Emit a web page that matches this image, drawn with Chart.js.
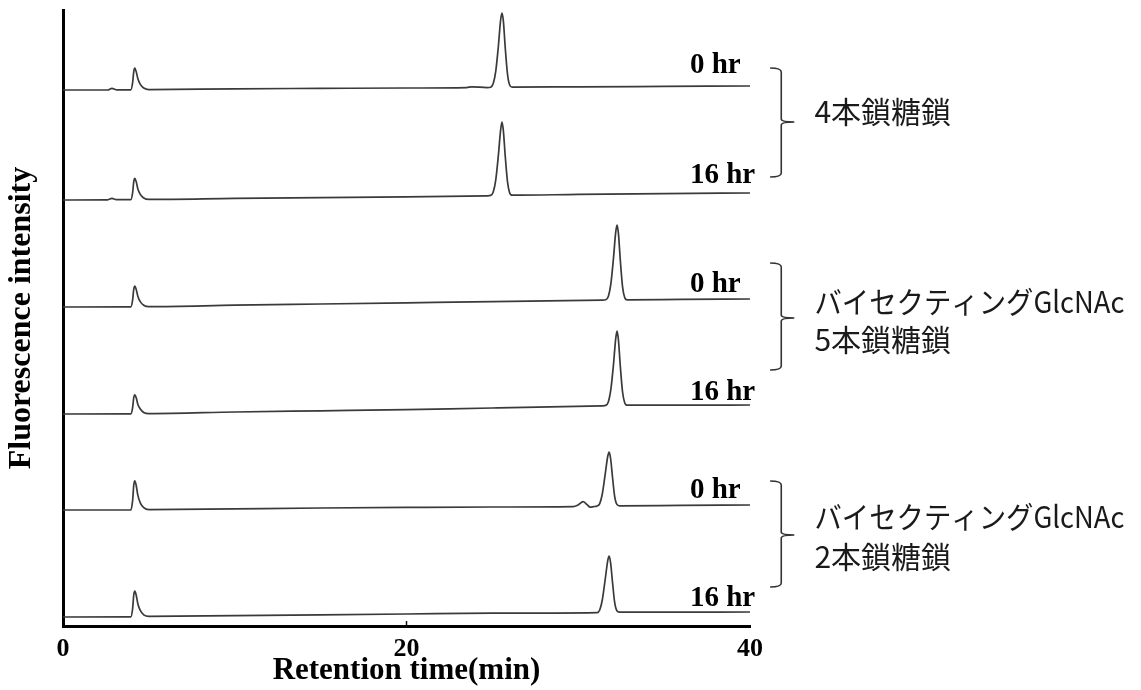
<!DOCTYPE html>
<html lang="ja">
<head>
<meta charset="UTF-8">
<title>Retention time chromatogram</title>
<style>
  html, body { margin: 0; padding: 0; background: #fff; }
  #wrap { width: 1141px; height: 690px; }
</style>
</head>
<body>
<div id="wrap"><canvas id="grafico" width="1141" height="690"></canvas></div>
<script src="https://cdn.jsdelivr.net/npm/chart.js"></script>
<script>
// x ticks / range (min)
const xTicks = [0, 20, 40];

// each trace: [retention time (min), fluorescence (a.u., stacked)]
const tetra0 = [[0,134.0],[2.6,134.0],[2.85,134.4],[3.1,134.05],[3.95,134.05],[4.05,135.7],[4.12,138.6],[4.18,139.45],[4.26,138.6],[4.36,136.8],[4.5,135.4],[4.7,134.5],[5.0,134.1],[10,134.3],[15,134.4],[20,134.5],[23.5,134.6],[23.8,134.8],[24.7,134.6],[24.9,134.7],[25.05,135.6],[25.2,138.8],[25.35,145.0],[25.48,151.5],[25.56,153.2],[25.64,151.2],[25.75,144.5],[25.88,138.0],[26.0,135.3],[26.15,134.7],[30,134.8],[35,134.9],[40,135.0]];
const tetra16 = [[0,106.5],[2.6,106.55],[2.85,106.9],[3.1,106.6],[3.95,106.6],[4.05,108.2],[4.12,111.1],[4.18,111.9],[4.26,111.1],[4.36,109.25],[4.5,107.9],[4.7,107.0],[5.0,106.65],[10,106.9],[15,107.1],[20,107.3],[24.7,107.55],[24.9,107.65],[25.05,108.5],[25.2,111.6],[25.35,117.7],[25.48,124.0],[25.56,126.0],[25.64,123.8],[25.75,117.4],[25.88,111.1],[26.0,108.4],[26.15,107.7],[30,107.9],[35,108.1],[40,108.25]];
const bisPenta0 = [[0,79.75],[3.95,79.8],[4.05,81.4],[4.12,84.2],[4.18,85.0],[4.26,84.2],[4.36,82.4],[4.5,81.1],[4.7,80.2],[5.0,79.85],[10,80.2],[15,80.5],[20,80.8],[25,81.1],[31.4,81.45],[31.6,81.55],[31.75,82.4],[31.9,85.6],[32.05,91.9],[32.18,98.4],[32.26,100.25],[32.34,98.1],[32.45,91.4],[32.58,84.8],[32.7,82.2],[32.85,81.55],[36,81.65],[40,81.75]];
const bisPenta16 = [[0,53.0],[3.95,53.05],[4.05,54.5],[4.12,57.1],[4.18,57.8],[4.26,57.1],[4.36,55.4],[4.5,54.25],[4.7,53.4],[5.0,53.1],[10,53.5],[15,53.8],[20,54.1],[25,54.5],[31.4,55.05],[31.6,55.15],[31.75,56.0],[31.9,59.2],[32.05,65.3],[32.18,71.8],[32.26,73.7],[32.34,71.5],[32.45,64.9],[32.58,58.5],[32.7,55.9],[32.85,55.2],[36,55.2],[40,55.25]];
const bisBi0 = [[0,29.0],[3.95,29.0],[4.05,31.2],[4.12,35.2],[4.18,36.3],[4.26,35.2],[4.36,32.65],[4.5,30.8],[4.7,29.6],[5.0,29.1],[10,29.3],[15,29.5],[20,29.65],[25,29.75],[29.7,29.85],[30.0,30.3],[30.28,31.1],[30.5,30.4],[30.7,29.7],[30.9,29.85],[31.1,30.0],[31.25,30.6],[31.4,33.0],[31.58,38.3],[31.72,42.5],[31.8,43.5],[31.88,42.0],[32.0,37.0],[32.12,32.4],[32.25,30.4],[32.4,30.05],[36,30.15],[40,30.25]];
const bisBi16 = [[0,2.25],[3.95,2.3],[4.05,4.2],[4.12,7.75],[4.18,8.7],[4.26,7.75],[4.36,5.5],[4.5,3.9],[4.7,2.8],[5.0,2.4],[10,2.6],[15,2.8],[20,3.0],[25,3.2],[31.1,3.35],[31.25,4.0],[31.4,6.5],[31.58,12.0],[31.72,16.4],[31.8,17.5],[31.88,15.9],[32.0,10.7],[32.12,5.9],[32.25,3.8],[32.4,3.45],[36,3.48],[40,3.5]];

const traces = [tetra0, tetra16, bisPenta0, bisPenta16, bisBi0, bisBi16];
const sampleLabels = ['0 hr', '16 hr', '0 hr', '16 hr', '0 hr', '16 hr'];
const groupLabels = [
  ['4本鎖糖鎖'],
  ['バイセクティングGlcNAc', '5本鎖糖鎖'],
  ['バイセクティングGlcNAc', '2本鎖糖鎖']
];

// annotation layout (scale units)
const labelX = 36.5;
const labelGap = [13, 10, 7, 5, 7, 6];
const brackets = [
  { top: 139.5, bottom: 112.25, mid: 126, text: [128.5] },
  { top: 90.75, bottom: 64, mid: 77, text: [81, 71.5] },
  { top: 36.25, bottom: 9.75, mid: 22.75, text: [27.25, 17.25] }
];
const bracketX = 41.82, hookX = 41.17, tipX = 42.58, groupTextX = 43.75;
const groupTextMaxW = 310;

const SERIF = "'Liberation Serif', 'Times New Roman', serif";
const CJK = "'Noto Sans CJK JP', 'Noto Sans CJK SC', sans-serif";

const anotacoes = {
  id: 'anotacoes',
  afterDatasetsDraw(chart) {
    const ctx = chart.ctx;
    const xs = chart.scales.x, ys = chart.scales.y;
    ctx.save();

    // small tick at 20 min
    ctx.strokeStyle = '#111';
    ctx.lineWidth = 1.5;
    ctx.beginPath();
    const x20 = xs.getPixelForValue(20);
    ctx.moveTo(x20, ys.bottom);
    ctx.lineTo(x20, ys.bottom - 5);
    ctx.stroke();

    // 0 hr / 16 hr
    ctx.fillStyle = '#000';
    ctx.font = 'bold 29px ' + SERIF;
    ctx.textAlign = 'left';
    ctx.textBaseline = 'alphabetic';
    traces.forEach((tr, i) => {
      const last = tr[tr.length - 1][1];
      ctx.fillText(sampleLabels[i], xs.getPixelForValue(labelX), ys.getPixelForValue(last) - labelGap[i]);
    });

    // brackets + group names
    ctx.strokeStyle = '#333';
    ctx.lineWidth = 1.6;
    brackets.forEach((b, g) => {
      const vx = xs.getPixelForValue(bracketX);
      const hx = xs.getPixelForValue(hookX);
      const tx = xs.getPixelForValue(tipX);
      const yt = ys.getPixelForValue(b.top);
      const yb = ys.getPixelForValue(b.bottom);
      const ym = ys.getPixelForValue(b.mid);
      ctx.beginPath();
      ctx.moveTo(hx, yt);
      ctx.quadraticCurveTo(vx, yt, vx, yt + 4);
      ctx.lineTo(vx, ym - 3);
      ctx.quadraticCurveTo(vx, ym, tx, ym);
      ctx.quadraticCurveTo(vx, ym, vx, ym + 3);
      ctx.lineTo(vx, yb - 4);
      ctx.quadraticCurveTo(vx, yb, hx, yb);
      ctx.stroke();

      ctx.fillStyle = '#1a1a1a';
      ctx.font = '30px ' + CJK;
      ctx.textBaseline = 'middle';
      groupLabels[g].forEach((line, k) => {
        ctx.fillText(line, xs.getPixelForValue(groupTextX), ys.getPixelForValue(b.text[k]), groupTextMaxW);
      });
    });
    ctx.restore();
  }
};

const ctx = document.getElementById('grafico').getContext('2d');
new Chart(ctx, {
  type: 'line',
  data: {
    datasets: traces.map(tr => ({
      data: tr.map(p => ({ x: p[0], y: p[1] })),
      borderColor: '#3a3a3a',
      borderWidth: 1.7,
      pointRadius: 0,
      fill: false,
      cubicInterpolationMode: 'monotone'
    }))
  },
  options: {
    responsive: false,
    animation: false,
    layout: { padding: { top: 10, right: 391, left: 0, bottom: 0 } },
    plugins: { legend: { display: false }, tooltip: { enabled: false } },
    scales: {
      x: {
        type: 'linear',
        min: xTicks[0],
        max: xTicks[xTicks.length - 1],
        afterFit: s => { s.height = 64; },
        afterBuildTicks: s => { s.ticks = xTicks.map(v => ({ value: v })); },
        grid: { display: false, drawTicks: false },
        border: { display: true, color: '#000', width: 3 },
        ticks: { color: '#000', padding: 8, maxRotation: 0, font: { family: SERIF, size: 26, weight: 'bold' } },
        title: {
          display: true,
          text: 'Retention time(min)',
          color: '#000',
          padding: { top: 0, bottom: 0 },
          font: { family: SERIF, size: 31, weight: 'bold' }
        }
      },
      y: {
        type: 'linear',
        min: 0,
        max: 154,
        afterFit: s => { s.width = 63; },
        grid: { display: false, drawTicks: false },
        border: { display: true, color: '#000', width: 3 },
        ticks: { display: false },
        title: {
          display: true,
          text: 'Fluorescence intensity',
          color: '#000',
          padding: { top: 3, bottom: 0 },
          font: { family: SERIF, size: 32, weight: 'bold' }
        }
      }
    }
  },
  plugins: [anotacoes]
});
</script>
</body>
</html>
